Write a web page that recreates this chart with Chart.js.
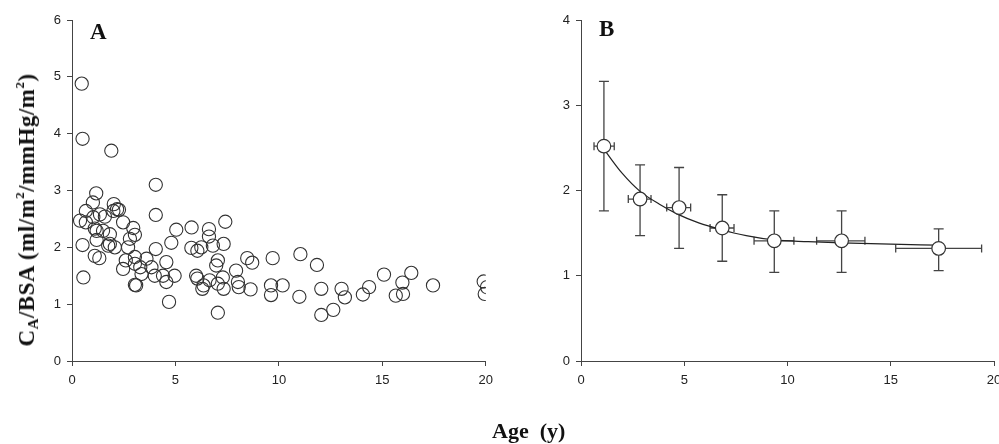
<!DOCTYPE html>
<html>
<head>
<meta charset="utf-8">
<script src="https://cdn.jsdelivr.net/npm/chart.js@4"></script>
<style>
  html, body { margin: 0; padding: 0; background: #fff; overflow: hidden; }
  #wrap { position: relative; width: 999px; height: 444px; }
  #chartA { position: absolute; left: 0; top: 0; }
  #chartB { position: absolute; left: 500px; top: 0; }
  .panel { position: absolute; font-family: "Liberation Serif", "Times New Roman", serif; font-weight: bold; font-size: 23px; color: #111; line-height: 1; }
  #ytitle {
    position: absolute; left: 27px; top: 210px;
    transform: translate(-50%, -50%) rotate(-90deg);
    white-space: nowrap;
    font-family: "Liberation Serif", "Times New Roman", serif; font-weight: bold; font-size: 23px; color: #111;
    letter-spacing: 0.5px;
  }
  #ytitle sub { font-size: 15px; vertical-align: -4px; line-height: 0; }
  #ytitle sup { font-size: 13px; vertical-align: 10px; line-height: 0; }
  #xtitle {
    position: absolute; left: 492px; top: 418px; white-space: pre;
    font-family: "Liberation Serif", "Times New Roman", serif; font-weight: bold; font-size: 22px; color: #111;
  }
</style>
</head>
<body>
<div id="wrap">
  <canvas id="chartA" width="500" height="444"></canvas>
  <canvas id="chartB" width="520" height="444"></canvas>
  <div class="panel" style="left:90px; top:20px;">A</div>
  <div class="panel" style="left:599px; top:17px;">B</div>
  <div id="ytitle">C<sub>A</sub>/BSA (ml/m<sup>2</sup>/mmHg/m<sup>2</sup>)</div>
  <div id="xtitle">Age  (y)</div>
</div>
<script>
  // panel A: individual patients
  const ageA = [0.47, 0.51, 1.9, 4.05, 4.05, 1.17, 1.01, 2.02, 2.18, 2.0, 0.67, 0.39, 0.67, 1.03, 1.35, 1.59,
    1.1, 1.19, 1.5, 1.83, 2.47, 2.96, 3.04, 2.8, 2.71, 1.75, 2.07, 0.51, 1.19, 1.1, 1.32, 0.55,
    2.47, 2.6, 3.04, 3.04, 3.04, 3.36, 3.3, 3.6, 3.84, 4.0, 4.05, 4.56, 4.56, 4.69, 4.4, 4.96,
    4.8, 5.04, 5.78, 5.77, 6.06, 6.25, 6.62, 6.62, 6.81, 7.41, 7.33, 7.05, 6.97, 6.0, 6.06, 6.36,
    6.3, 6.65, 7.05, 7.29, 7.33, 7.93, 8.02, 8.06, 7.05, 8.47, 8.71, 8.63, 9.7, 9.62, 9.62, 10.18,
    10.99, 11.04, 11.84, 12.05, 12.05, 12.63, 13.03, 13.19, 14.06, 14.36, 15.08, 15.65, 16.0, 15.97, 16.4, 17.45,
    19.9, 20.06, 19.95, 3.1, 2.27, 1.83];
  const caA = [4.88, 3.91, 3.70, 3.10, 2.57, 2.95, 2.79, 2.76, 2.67, 2.64, 2.64, 2.47, 2.44, 2.53, 2.58, 2.54,
    2.33, 2.29, 2.29, 2.23, 2.44, 2.34, 2.22, 2.15, 2.0, 2.03, 2.0, 2.04, 2.13, 1.85, 1.81, 1.47,
    1.62, 1.77, 1.71, 1.83, 1.34, 1.53, 1.65, 1.80, 1.65, 1.50, 1.97, 1.74, 1.39, 1.04, 1.50, 1.50,
    2.08, 2.31, 2.35, 1.99, 1.94, 2.0, 2.32, 2.19, 2.03, 2.45, 2.06, 1.77, 1.68, 1.50, 1.45, 1.33,
    1.27, 1.42, 1.36, 1.47, 1.27, 1.59, 1.39, 1.30, 0.85, 1.81, 1.73, 1.26, 1.81, 1.33, 1.16, 1.33,
    1.13, 1.88, 1.69, 1.27, 0.81, 0.90, 1.27, 1.12, 1.17, 1.30, 1.52, 1.15, 1.18, 1.38, 1.55, 1.33,
    1.40, 1.30, 1.18, 1.33, 2.66, 2.06];

  // panel B: age group means with SD bars
  const ageB = [1.11, 2.86, 4.75, 6.84, 9.36, 12.62, 17.32];
  const caB = [2.52, 1.90, 1.80, 1.56, 1.41, 1.41, 1.32];
  const ageLow = [0.63, 2.29, 4.15, 6.25, 8.38, 11.41, 15.24];
  const ageHigh = [1.61, 3.39, 5.31, 7.41, 10.31, 13.75, 19.40];
  const caLow = [1.76, 1.47, 1.32, 1.17, 1.04, 1.04, 1.06];
  const caHigh = [3.28, 2.30, 2.27, 1.95, 1.76, 1.76, 1.55];

  // fitted curve
  const fitAge = [1.15, 2.0, 2.86, 3.8, 4.7, 5.7, 6.8, 8.0, 9.35, 11.0, 12.6, 15.0, 17.2];
  const fitCa = [2.47, 2.2, 1.99, 1.84, 1.72, 1.62, 1.54, 1.47, 1.42, 1.40, 1.385, 1.37, 1.36];

  const ink = '#333';
  const tickFont = { family: 'Liberation Sans, Arial, sans-serif', size: 13 };

  function axis(min, max, step, isX, size) {
    return {
      type: 'linear', min: min, max: max,
      border: { display: true, color: '#444', width: 1 },
      grid: { display: true, drawOnChartArea: false, drawTicks: true, tickLength: 5, color: '#444' },
      ticks: { stepSize: step, font: tickFont, color: '#222', padding: isX ? 7 : 6, maxRotation: 0 },
      afterFit: function (scale) {
        if (isX) scale.height = size; else scale.width = size;
      }
    };
  }

  function toPts(xs, ys) {
    return xs.map((x, i) => ({ x: x, y: ys[i] }));
  }

  Chart.defaults.animation = false;

  new Chart(document.getElementById('chartA'), {
    type: 'scatter',
    data: {
      datasets: [{
        data: toPts(ageA, caA),
        pointRadius: 6.6,
        pointBorderWidth: 1.1,
        pointBorderColor: ink,
        pointBackgroundColor: 'rgba(0,0,0,0)'
      }]
    },
    options: {
      responsive: false,
      layout: { padding: { top: 20, right: 13, bottom: 0, left: 0 } },
      plugins: { legend: { display: false }, tooltip: { enabled: false } },
      scales: {
        x: axis(0, 20, 5, true, 83),
        y: axis(0, 6, 1, false, 72)
      }
    }
  });

  const errorBars = {
    id: 'errorBars',
    beforeDatasetsDraw(chart) {
      const ctx = chart.ctx;
      const xs = chart.scales.x, ys = chart.scales.y;
      ctx.save();
      ctx.strokeStyle = '#444';
      ctx.lineWidth = 1.3;
      ageB.forEach((a, i) => {
        const px = xs.getPixelForValue(a);
        const py = ys.getPixelForValue(caB[i]);
        const top = ys.getPixelForValue(caHigh[i]);
        const bot = ys.getPixelForValue(caLow[i]);
        const l = xs.getPixelForValue(ageLow[i]);
        const r = xs.getPixelForValue(ageHigh[i]);
        ctx.beginPath();
        ctx.moveTo(px, top); ctx.lineTo(px, bot);
        ctx.moveTo(px - 5, top); ctx.lineTo(px + 5, top);
        ctx.moveTo(px - 5, bot); ctx.lineTo(px + 5, bot);
        ctx.moveTo(l, py); ctx.lineTo(r, py);
        ctx.moveTo(l, py - 4); ctx.lineTo(l, py + 4);
        ctx.moveTo(r, py - 4); ctx.lineTo(r, py + 4);
        ctx.stroke();
      });
      ctx.restore();
    }
  };

  new Chart(document.getElementById('chartB'), {
    type: 'scatter',
    data: {
      datasets: [{
        data: toPts(ageB, caB),
        pointRadius: 6.8,
        pointBorderWidth: 1.2,
        pointBorderColor: ink,
        pointBackgroundColor: '#fff'
      }, {
        data: toPts(fitAge, fitCa),
        showLine: true,
        tension: 0.4,
        cubicInterpolationMode: 'monotone',
        borderColor: '#222',
        borderWidth: 1.2,
        pointRadius: 0
      }]
    },
    plugins: [errorBars],
    options: {
      responsive: false,
      layout: { padding: { top: 20, right: 26, bottom: 0, left: 0 } },
      plugins: { legend: { display: false }, tooltip: { enabled: false } },
      scales: {
        x: axis(0, 20, 5, true, 83),
        y: axis(0, 4, 1, false, 81)
      }
    }
  });
</script>
</body>
</html>
